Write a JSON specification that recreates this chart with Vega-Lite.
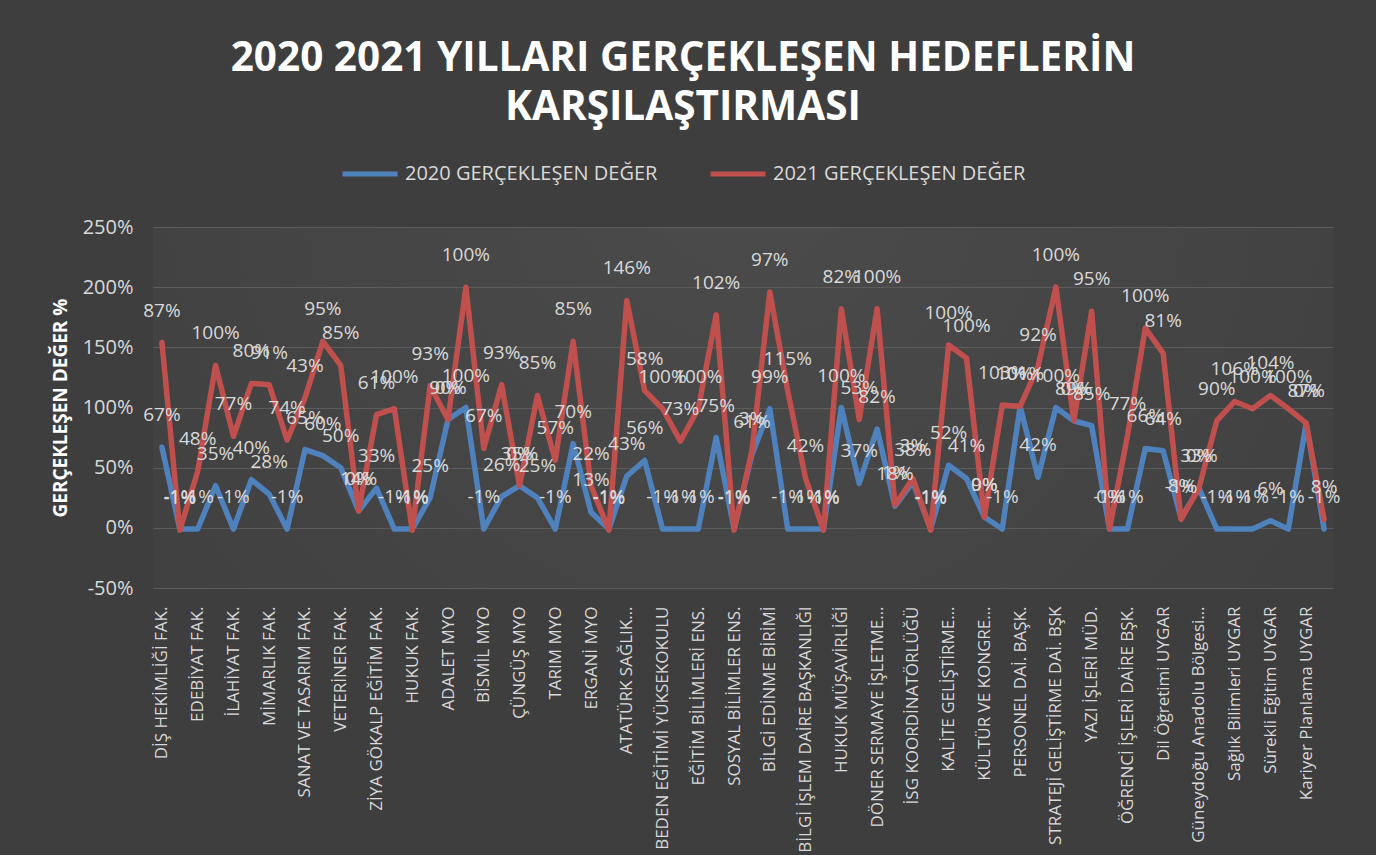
{
  "$schema": "https://vega.github.io/schema/vega-lite/v6.json",
  "width": 1180,
  "height": 361,
  "autosize": {"type": "none"},
  "padding": {"left": 153, "top": 227, "right": 43, "bottom": 267},
  "background": "#3e3e3e",
  "title": {
    "text": ["2020 2021 YILLARI GERÇEKLEŞEN HEDEFLERİN", "KARŞILAŞTIRMASI"],
    "font": "Open Sans",
    "fontSize": 40.5,
    "fontWeight": "bold",
    "color": "#ffffff",
    "anchor": "middle",
    "dx": -60,
    "offset": 16,
    "lineHeight": 49
  },
  "data": {
    "values": [
      {"i": 0, "unit": "DİŞ HEKİMLİĞİ FAK.", "2020": 0.67, "2021": 0.87},
      {"i": 1, "unit": "ECZACILIK FAK.", "2020": -0.01, "2021": -0.01},
      {"i": 2, "unit": "EDEBİYAT FAK.", "2020": -0.01, "2021": 0.48},
      {"i": 3, "unit": "FEN FAK.", "2020": 0.35, "2021": 1.00},
      {"i": 4, "unit": "İLAHİYAT FAK.", "2020": -0.01, "2021": 0.77},
      {"i": 5, "unit": "İKTİSADİ VE İDARİ BİLİMLER FAK.", "2020": 0.40, "2021": 0.80},
      {"i": 6, "unit": "MİMARLIK FAK.", "2020": 0.28, "2021": 0.91},
      {"i": 7, "unit": "MÜHENDİSLİK FAK.", "2020": -0.01, "2021": 0.74},
      {"i": 8, "unit": "SANAT VE TASARIM FAK.", "2020": 0.65, "2021": 0.43},
      {"i": 9, "unit": "TIP FAK.", "2020": 0.60, "2021": 0.95},
      {"i": 10, "unit": "VETERİNER FAK.", "2020": 0.50, "2021": 0.85},
      {"i": 11, "unit": "ZİRAAT FAK.", "2020": 0.14, "2021": 0.00},
      {"i": 12, "unit": "ZİYA GÖKALP EĞİTİM FAK.", "2020": 0.33, "2021": 0.61},
      {"i": 13, "unit": "SPOR BİLİMLERİ FAK.", "2020": -0.01, "2021": 1.00},
      {"i": 14, "unit": "HUKUK FAK.", "2020": -0.01, "2021": -0.01},
      {"i": 15, "unit": "SAĞLIK BİLİMLERİ FAK.", "2020": 0.25, "2021": 0.93},
      {"i": 16, "unit": "ADALET MYO", "2020": 0.90, "2021": 0.00},
      {"i": 17, "unit": "DİCLE MYO", "2020": 1.00, "2021": 1.00},
      {"i": 18, "unit": "BİSMİL MYO", "2020": -0.01, "2021": 0.67},
      {"i": 19, "unit": "ÇERMİK MYO", "2020": 0.26, "2021": 0.93},
      {"i": 20, "unit": "ÇÜNGÜŞ MYO", "2020": 0.35, "2021": 0.00},
      {"i": 21, "unit": "SİLVAN MYO", "2020": 0.25, "2021": 0.85},
      {"i": 22, "unit": "TARIM MYO", "2020": -0.01, "2021": 0.57},
      {"i": 23, "unit": "TEKNİK BİLİMLER MYO", "2020": 0.70, "2021": 0.85},
      {"i": 24, "unit": "ERGANİ MYO", "2020": 0.13, "2021": 0.22},
      {"i": 25, "unit": "SOSYAL BİLİMLER MYO", "2020": -0.01, "2021": -0.01},
      {"i": 26, "unit": "ATATÜRK SAĞLIK…", "2020": 0.43, "2021": 1.46},
      {"i": 27, "unit": "DEVLET KONSERVATUVARI", "2020": 0.56, "2021": 0.58},
      {"i": 28, "unit": "BEDEN EĞİTİMİ YÜKSEKOKULU", "2020": -0.01, "2021": 1.00},
      {"i": 29, "unit": "YABANCI DİLLER YÜKSEKOKULU", "2020": -0.01, "2021": 0.73},
      {"i": 30, "unit": "EĞİTİM BİLİMLERİ ENS.", "2020": -0.01, "2021": 1.00},
      {"i": 31, "unit": "FEN BİLİMLERİ ENS.", "2020": 0.75, "2021": 1.02},
      {"i": 32, "unit": "SOSYAL BİLİMLER ENS.", "2020": -0.01, "2021": -0.01},
      {"i": 33, "unit": "SAĞLIK BİLİMLERİ ENS.", "2020": 0.61, "2021": 0.03},
      {"i": 34, "unit": "BİLGİ EDİNME BİRİMİ", "2020": 0.99, "2021": 0.97},
      {"i": 35, "unit": "BASIN VE HALKLA İLİŞKİLER", "2020": -0.01, "2021": 1.15},
      {"i": 36, "unit": "BİLGİ İŞLEM DAİRE BAŞKANLIĞI", "2020": -0.01, "2021": 0.42},
      {"i": 37, "unit": "GENEL SEKRETERLİK", "2020": -0.01, "2021": -0.01},
      {"i": 38, "unit": "HUKUK MÜŞAVİRLİĞİ", "2020": 1.00, "2021": 0.82},
      {"i": 39, "unit": "İDARİ VE MALİ İŞLER DAİ. BŞK", "2020": 0.37, "2021": 0.53},
      {"i": 40, "unit": "DÖNER SERMAYE İŞLETME…", "2020": 0.82, "2021": 1.00},
      {"i": 41, "unit": "İÇ DENETİM BİRİMİ", "2020": 0.18, "2021": 0.01},
      {"i": 42, "unit": "İSG KOORDİNATÖRLÜĞÜ", "2020": 0.38, "2021": 0.03},
      {"i": 43, "unit": "KÜTÜPHANE VE DOK. DAİ. BŞK", "2020": -0.01, "2021": -0.01},
      {"i": 44, "unit": "KALİTE GELİŞTİRME…", "2020": 0.52, "2021": 1.00},
      {"i": 45, "unit": "KARİYER MERKEZİ", "2020": 0.41, "2021": 1.00},
      {"i": 46, "unit": "KÜLTÜR VE KONGRE…", "2020": 0.09, "2021": 0.00},
      {"i": 47, "unit": "PROJE KOORDİNASYON", "2020": -0.01, "2021": 1.03},
      {"i": 48, "unit": "PERSONEL DAİ. BAŞK.", "2020": 1.01, "2021": 0.00},
      {"i": 49, "unit": "SAĞLIK KÜLTÜR VE SPOR DAİ. BŞK", "2020": 0.42, "2021": 0.92},
      {"i": 50, "unit": "STRATEJİ GELİŞTİRME DAİ. BŞK", "2020": 1.00, "2021": 1.00},
      {"i": 51, "unit": "YAPI İŞLERİ VE TEKNİK DAİ. BŞK", "2020": 0.89, "2021": 0.00},
      {"i": 52, "unit": "YAZI İŞLERİ MÜD.", "2020": 0.85, "2021": 0.95},
      {"i": 53, "unit": "ÖĞRENCİ DEKANLIĞI", "2020": -0.01, "2021": 0.00},
      {"i": 54, "unit": "ÖĞRENCİ İŞLERİ DAİRE BŞK.", "2020": -0.01, "2021": 0.77},
      {"i": 55, "unit": "Bilimsel Araştırma Projeleri", "2020": 0.66, "2021": 1.00},
      {"i": 56, "unit": "Dil Öğretimi UYGAR", "2020": 0.64, "2021": 0.81},
      {"i": 57, "unit": "Eğitim Teknolojileri UYGAR", "2020": 0.08, "2021": -0.01},
      {"i": 58, "unit": "Güneydoğu Anadolu Bölgesi…", "2020": 0.33, "2021": 0.00},
      {"i": 59, "unit": "Kadın Sorunları UYGAR", "2020": -0.01, "2021": 0.90},
      {"i": 60, "unit": "Sağlık Bilimleri UYGAR", "2020": -0.01, "2021": 1.06},
      {"i": 61, "unit": "Siyaset Bilimi UYGAR", "2020": -0.01, "2021": 1.00},
      {"i": 62, "unit": "Sürekli Eğitim UYGAR", "2020": 0.06, "2021": 1.04},
      {"i": 63, "unit": "Uzaktan Eğitim UYGAR", "2020": -0.01, "2021": 1.00},
      {"i": 64, "unit": "Kariyer Planlama UYGAR", "2020": 0.87, "2021": 0.00},
      {"i": 65, "unit": "Zaza Dili UYGAR", "2020": -0.01, "2021": 0.08}
    ]
  },
  "transform": [
    {"fold": ["2020", "2021"], "as": ["series", "value"]},
    {
      "window": [{"op": "sum", "field": "value", "as": "cum"}],
      "groupby": ["unit"],
      "sort": [{"field": "series", "order": "ascending"}],
      "frame": [null, 0]
    }
  ],
  "encoding": {
    "x": {
      "field": "unit",
      "type": "ordinal",
      "sort": {"field": "i", "op": "min"},
      "axis": {
        "title": null,
        "labelAngle": -90,
        "labelFont": "Open Sans",
        "labelFontSize": 17,
        "labelColor": "#d9d9d9",
        "domain": false,
        "ticks": false,
        "grid": false,
        "labelPadding": 18,
        "labelLimit": 400,
        "labelOverlap": false,
        "labelExpr": "round(datum.index*65) % 2 == 0 ? datum.label : ''"
      }
    },
    "y": {
      "field": "cum",
      "type": "quantitative",
      "scale": {"domain": [-0.5, 2.5], "nice": false, "zero": false},
      "axis": {
        "values": [-0.5, 0, 0.5, 1, 1.5, 2, 2.5],
        "format": ".0%",
        "labelFont": "Open Sans",
        "labelFontSize": 20,
        "labelColor": "#d9d9d9",
        "labelPadding": 20,
        "domain": false,
        "ticks": false,
        "gridColor": "#5c5c5c",
        "gridWidth": 1,
        "title": "GERÇEKLEŞEN DEĞER %",
        "titleFont": "Open Sans",
        "titleFontSize": 19,
        "titleFontWeight": "bold",
        "titleColor": "#ffffff",
        "titlePadding": 12
      }
    }
  },
  "layer": [
    {
      "mark": {"type": "line", "strokeWidth": 5.5, "strokeCap": "round", "strokeJoin": "round"},
      "encoding": {
        "color": {
          "field": "series",
          "type": "nominal",
          "scale": {"domain": ["2020", "2021"], "range": ["#4f81bd", "#c0504d"]},
          "legend": {
            "title": null,
            "orient": "none",
            "legendX": 187,
            "legendY": -83,
            "direction": "horizontal",
            "symbolType": "stroke",
            "symbolSize": 3025,
            "symbolStrokeWidth": 5,
            "labelFont": "Open Sans",
            "labelFontSize": 20,
            "labelColor": "#d9d9d9",
            "labelOffset": 5,
            "labelLimit": 400,
            "columnPadding": 42,
            "labelExpr": "datum.label + ' GERÇEKLEŞEN DEĞER'"
          }
        }
      }
    },
    {
      "mark": {"type": "text", "dy": -32, "baseline": "middle", "align": "center", "font": "Open Sans", "fontSize": 19, "color": "#d9d9d9"},
      "encoding": {
        "text": {"field": "value", "type": "quantitative", "format": ".0%"}
      }
    }
  ],
  "config": {
    "view": {
      "stroke": null,
      "fill": {
        "gradient": "radial",
        "x1": 0.5, "y1": 0.3, "x2": 0.5, "y2": 0.3, "r1": 0, "r2": 0.75,
        "stops": [{"offset": 0, "color": "#4b4b4b"}, {"offset": 1, "color": "#3e3e3e"}]
      }
    },
    "locale": {"number": {"decimal": ".", "thousands": ",", "grouping": [3], "currency": ["$", ""], "minus": "-"}}
  }
}
